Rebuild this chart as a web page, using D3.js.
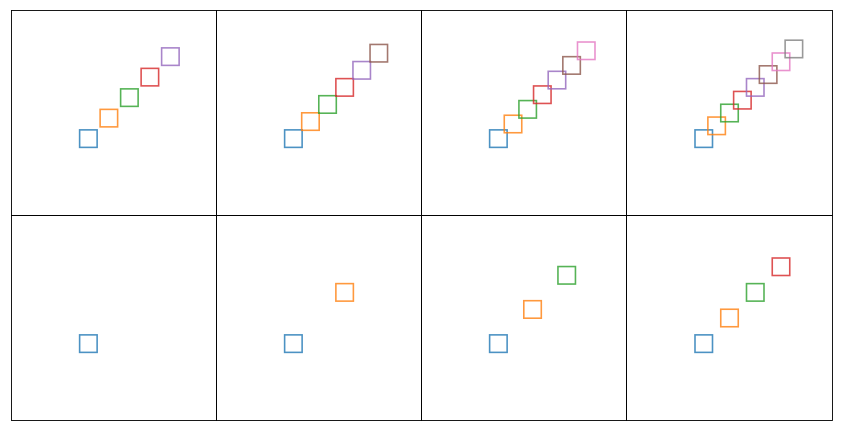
<!DOCTYPE html>
<html><head><meta charset="utf-8">
<script src="https://cdn.jsdelivr.net/npm/d3@7"></script>
<style>body{margin:0;background:#fff}svg{display:block}</style>
</head><body>
<script>
const colors = ["#1f77b4","#ff7f0e","#2ca02c","#d62728","#9467bd","#8c564b","#e377c2","#7f7f7f"];
// marker positions (x = y) per panel, row-major: top row then bottom row
const panelTop1 = [0.375, 0.475, 0.575, 0.675, 0.775];
const panelTop2 = [0.375, 0.4583, 0.5417, 0.625, 0.7083, 0.7917];
const panelTop3 = [0.375, 0.4464, 0.5179, 0.5893, 0.6607, 0.7321, 0.8036];
const panelTop4 = [0.375, 0.4375, 0.5, 0.5625, 0.625, 0.6875, 0.75, 0.8125];
const panelBot1 = [0.375];
const panelBot2 = [0.375, 0.625];
const panelBot3 = [0.375, 0.5417, 0.7083];
const panelBot4 = [0.375, 0.5, 0.625, 0.75];
const panels = [panelTop1, panelTop2, panelTop3, panelTop4, panelBot1, panelBot2, panelBot3, panelBot4];

const W = 842, H = 431;
const colEdges = [11, 216, 421, 626, 832];
const rowEdges = [10, 215, 420];
const ncol = 4;
const side = 17.5;

const svg = d3.select("body").append("svg").attr("width", W).attr("height", H);

panels.forEach((vals, k) => {
  const c = k % ncol, r = Math.floor(k / ncol);
  const x0 = colEdges[c] + 0.5, x1 = colEdges[c + 1] + 0.5;
  const y0 = rowEdges[r] + 0.5, y1 = rowEdges[r + 1] + 0.5;
  const x = d3.scaleLinear().domain([0, 1]).range([x0, x1]);
  const y = d3.scaleLinear().domain([0, 1]).range([y1, y0]);
  const g = svg.append("g");
  g.selectAll("rect.m").data(vals).join("rect")
    .attr("class", "m")
    .attr("x", d => x(d) - side / 2)
    .attr("y", d => y(d) - side / 2)
    .attr("width", side).attr("height", side)
    .attr("fill", "none")
    .attr("stroke", (d, i) => colors[i])
    .attr("stroke-width", 1.6)
    .attr("stroke-opacity", 0.8);
  g.append("rect")
    .attr("x", x0).attr("y", y0).attr("width", x1 - x0).attr("height", y1 - y0)
    .attr("fill", "none").attr("stroke", "#000").attr("stroke-width", 0.9);
});
</script>
</body></html>
